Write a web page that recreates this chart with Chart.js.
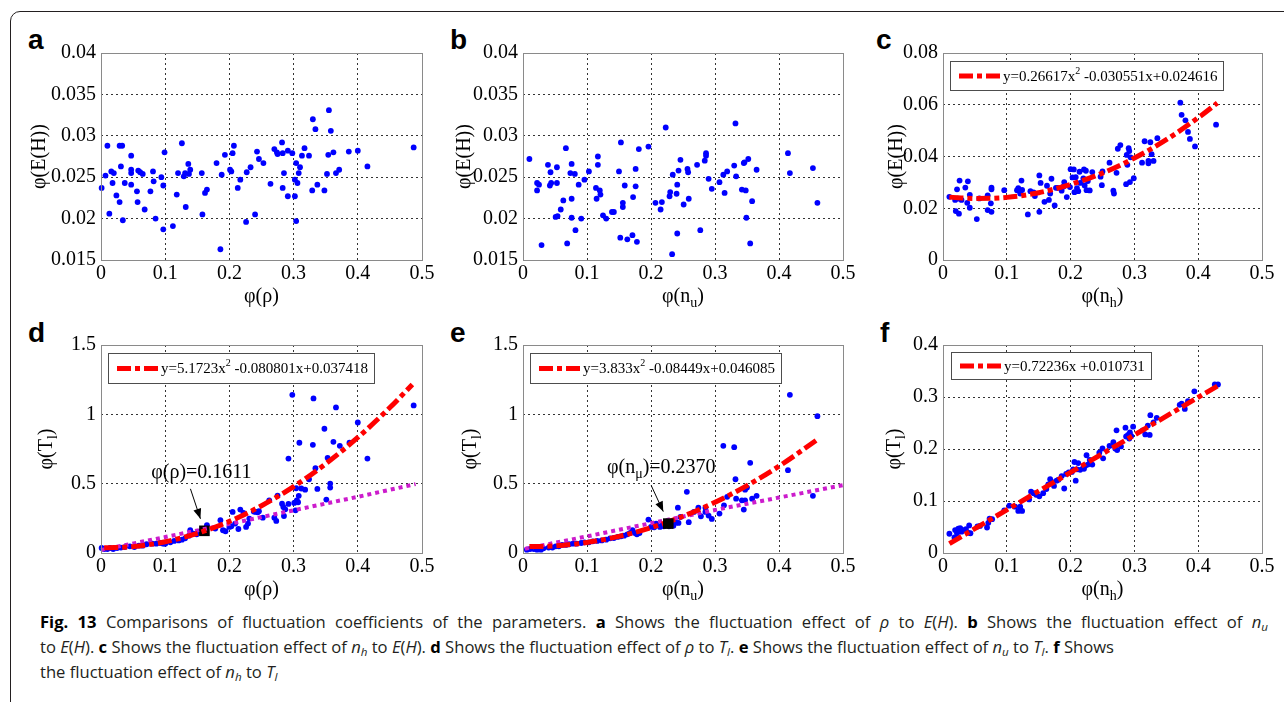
<!DOCTYPE html>
<html>
<head>
<meta charset="utf-8">
<script src="https://cdn.jsdelivr.net/npm/chart.js@4.4.1/dist/chart.umd.min.js"></script>
<style>
html,body{margin:0;padding:0;background:#fff;width:1284px;height:702px;overflow:hidden;position:relative;}
#frame{position:absolute;left:10px;top:11px;width:1320px;height:740px;border:1.5px solid #231f20;border-top-left-radius:10px;box-sizing:border-box;}
canvas{position:absolute;}
.lbl{position:absolute;font-family:"Liberation Sans",Arial,sans-serif;font-weight:bold;font-size:28px;line-height:28px;color:#000;}
.cap{position:absolute;left:40px;font-family:"Open Sans",sans-serif;font-size:16.6px;line-height:25px;color:#231f20;}
.cap b{color:#000;}
.cap sub{font-size:70%;vertical-align:-0.25em;line-height:0;}
</style>
</head>
<body>
<div id="frame"></div>
<div class="lbl" style="left:28px;top:26px">a</div>
<div class="lbl" style="left:450px;top:26px">b</div>
<div class="lbl" style="left:876px;top:26px">c</div>
<div class="lbl" style="left:28px;top:319px">d</div>
<div class="lbl" style="left:450px;top:319px">e</div>
<div class="lbl" style="left:880px;top:319px">f</div>
<div class="cap" style="top:609px;width:1228px;text-align:justify;text-align-last:justify;"><b>Fig. 13</b> Comparisons of fluctuation coefficients of the parameters. <b>a</b> Shows the fluctuation effect of <i>ρ</i> to <i>E</i>(<i>H</i>). <b>b</b> Shows the fluctuation effect of <i>n<sub>u</sub></i></div>
<div class="cap" style="top:634px;white-space:nowrap;">to <i>E</i>(<i>H</i>). <b>c</b> Shows the fluctuation effect of <i>n<sub>h</sub></i> to <i>E</i>(<i>H</i>). <b>d</b> Shows the fluctuation effect of <i>ρ</i> to <i>T<sub>l</sub></i>. <b>e</b> Shows the fluctuation effect of <i>n<sub>u</sub></i> to <i>T<sub>l</sub></i>. <b>f</b> Shows</div>
<div class="cap" style="top:659px;white-space:nowrap;">the fluctuation effect of <i>n<sub>h</sub></i> to <i>T<sub>l</sub></i></div>
<script>
// ---------------- data ----------------
const xTicks = [0, 0.1, 0.2, 0.3, 0.4, 0.5];
const xTickLabels = ['0', '0.1', '0.2', '0.3', '0.4', '0.5'];
const yTicksEH = [0.015, 0.02, 0.025, 0.03, 0.035, 0.04];
const yTickLabelsEH = ['0.015', '0.02', '0.025', '0.03', '0.035', '0.04'];
const yTicksC = [0, 0.02, 0.04, 0.06, 0.08];
const yTickLabelsC = ['0', '0.02', '0.04', '0.06', '0.08'];
const yTicksT = [0, 0.5, 1, 1.5];
const yTickLabelsT = ['0', '0.5', '1', '1.5'];
const yTicksF = [0, 0.1, 0.2, 0.3, 0.4];
const yTickLabelsF = ['0', '0.1', '0.2', '0.3', '0.4'];

// panel a : phi(rho) vs phi(E(H))
const aX = [0.001,0.007,0.010,0.013,0.016,0.018,0.020,0.024,0.029,0.029,0.033,0.031,0.034,0.037,0.047,0.047,0.047,0.047,0.056,0.057,0.058,0.061,0.065,0.068,0.077,0.081,0.082,0.085,0.094,0.097,0.097,0.099,0.112,0.118,0.120,0.126,0.129,0.131,0.132,0.136,0.137,0.139,0.157,0.158,0.162,0.165,0.180,0.186,0.188,0.193,0.201,0.203,0.205,0.207,0.213,0.217,0.226,0.227,0.233,0.240,0.243,0.246,0.253,0.264,0.270,0.274,0.275,0.282,0.283,0.283,0.285,0.291,0.291,0.298,0.302,0.302,0.304,0.304,0.306,0.308,0.310,0.313,0.317,0.324,0.329,0.330,0.334,0.337,0.348,0.352,0.354,0.355,0.358,0.362,0.366,0.371,0.386,0.400,0.415,0.487];
const aY = [0.0237,0.0252,0.0288,0.0206,0.0257,0.0243,0.0255,0.0228,0.0220,0.0288,0.0288,0.0263,0.0198,0.0243,0.0276,0.0259,0.0255,0.0241,0.0233,0.0220,0.0258,0.0256,0.0254,0.0211,0.0233,0.0257,0.0245,0.0200,0.0250,0.0240,0.0187,0.0280,0.0191,0.0229,0.0255,0.0291,0.0251,0.0255,0.0214,0.0266,0.0254,0.0259,0.0255,0.0205,0.0231,0.0235,0.0267,0.0163,0.0253,0.0277,0.0259,0.0257,0.0279,0.0288,0.0237,0.0247,0.0196,0.0256,0.0262,0.0205,0.0281,0.0272,0.0267,0.0242,0.0284,0.0280,0.0278,0.0292,0.0279,0.0237,0.0255,0.0282,0.0227,0.0279,0.0227,0.0247,0.0267,0.0197,0.0243,0.0255,0.0262,0.0276,0.0285,0.0276,0.0234,0.0320,0.0308,0.0241,0.0234,0.0254,0.0277,0.0331,0.0306,0.0280,0.0255,0.0259,0.0281,0.0282,0.0263,0.0286];

// panel b : phi(n_u) vs phi(E(H))
const bX = [0.010,0.022,0.022,0.025,0.029,0.039,0.042,0.043,0.044,0.051,0.053,0.053,0.054,0.059,0.063,0.067,0.069,0.074,0.076,0.076,0.076,0.081,0.082,0.087,0.091,0.096,0.103,0.114,0.115,0.117,0.117,0.120,0.121,0.125,0.130,0.139,0.142,0.150,0.152,0.153,0.156,0.156,0.159,0.163,0.171,0.172,0.176,0.176,0.178,0.181,0.196,0.207,0.215,0.217,0.223,0.229,0.230,0.233,0.234,0.240,0.241,0.241,0.243,0.246,0.251,0.257,0.258,0.259,0.272,0.277,0.284,0.286,0.286,0.290,0.295,0.307,0.313,0.315,0.319,0.330,0.332,0.333,0.342,0.345,0.346,0.348,0.349,0.352,0.355,0.358,0.365,0.414,0.417,0.453,0.460];
const bY = [0.0272,0.0243,0.0234,0.0241,0.0168,0.0265,0.0240,0.0256,0.0243,0.0202,0.0262,0.0243,0.0203,0.0211,0.0222,0.0285,0.0170,0.0255,0.0224,0.0201,0.0266,0.0254,0.0186,0.0241,0.0200,0.0247,0.0257,0.0237,0.0224,0.0275,0.0265,0.0234,0.0229,0.0204,0.0200,0.0208,0.0208,0.0257,0.0177,0.0292,0.0219,0.0214,0.0240,0.0175,0.0180,0.0226,0.0260,0.0239,0.0172,0.0284,0.0287,0.0219,0.0211,0.0220,0.0310,0.0227,0.0232,0.0157,0.0253,0.0230,0.0241,0.0182,0.0258,0.0271,0.0217,0.0260,0.0256,0.0224,0.0265,0.0186,0.0270,0.0279,0.0276,0.0248,0.0236,0.0244,0.0253,0.0231,0.0257,0.0264,0.0315,0.0251,0.0235,0.0267,0.0268,0.0234,0.0201,0.0272,0.0170,0.0221,0.0259,0.0279,0.0255,0.0261,0.0219];

// panel c : phi(n_h) vs phi(E(H))
const cX = [0.010,0.019,0.020,0.022,0.023,0.025,0.026,0.029,0.035,0.038,0.039,0.042,0.042,0.053,0.057,0.070,0.070,0.075,0.076,0.076,0.076,0.096,0.116,0.118,0.121,0.123,0.124,0.133,0.137,0.142,0.144,0.151,0.151,0.153,0.159,0.163,0.166,0.168,0.170,0.175,0.177,0.180,0.186,0.189,0.190,0.194,0.199,0.200,0.203,0.205,0.206,0.208,0.210,0.212,0.214,0.215,0.220,0.221,0.222,0.224,0.225,0.227,0.230,0.234,0.247,0.249,0.250,0.261,0.267,0.268,0.272,0.274,0.278,0.287,0.288,0.289,0.291,0.292,0.293,0.294,0.299,0.312,0.316,0.322,0.322,0.325,0.327,0.330,0.336,0.372,0.374,0.380,0.384,0.387,0.395,0.428];
const cY = [0.0244,0.0232,0.0189,0.0273,0.0237,0.0179,0.0307,0.0232,0.0280,0.0221,0.0304,0.0252,0.0202,0.0158,0.0238,0.0250,0.0193,0.0219,0.0280,0.0273,0.0186,0.0270,0.0270,0.0278,0.0257,0.0307,0.0271,0.0176,0.0266,0.0261,0.0247,0.0327,0.0186,0.0298,0.0225,0.0287,0.0232,0.0257,0.0314,0.0211,0.0279,0.0279,0.0268,0.0284,0.0301,0.0243,0.0282,0.0351,0.0319,0.0350,0.0262,0.0320,0.0278,0.0266,0.0341,0.0298,0.0315,0.0350,0.0288,0.0345,0.0270,0.0305,0.0269,0.0340,0.0322,0.0289,0.0342,0.0376,0.0268,0.0257,0.0337,0.0430,0.0444,0.0293,0.0406,0.0368,0.0432,0.0421,0.0301,0.0397,0.0316,0.0376,0.0459,0.0374,0.0383,0.0455,0.0409,0.0383,0.0471,0.0608,0.0561,0.0540,0.0495,0.0468,0.0439,0.0523];
const cFitX = [0.01, 0.05, 0.10, 0.15, 0.20, 0.25, 0.30, 0.35, 0.40, 0.43];
const cFitY = [0.0243, 0.0238, 0.0242, 0.0260, 0.0292, 0.0336, 0.0394, 0.0465, 0.0550, 0.0607];

// panel d : phi(rho) vs phi(T_l)
const dX = [0.001,0.005,0.010,0.014,0.019,0.025,0.031,0.037,0.045,0.052,0.059,0.065,0.071,0.080,0.086,0.092,0.097,0.100,0.108,0.114,0.121,0.126,0.131,0.137,0.139,0.144,0.149,0.154,0.159,0.162,0.165,0.178,0.186,0.190,0.194,0.200,0.203,0.205,0.209,0.214,0.217,0.222,0.226,0.229,0.231,0.238,0.241,0.244,0.246,0.252,0.262,0.270,0.273,0.275,0.282,0.284,0.285,0.287,0.292,0.292,0.298,0.301,0.303,0.304,0.305,0.307,0.308,0.309,0.312,0.318,0.324,0.330,0.331,0.334,0.337,0.348,0.351,0.353,0.357,0.357,0.362,0.366,0.372,0.387,0.400,0.415,0.487];
const dY = [0.036,0.029,0.029,0.036,0.029,0.036,0.039,0.043,0.048,0.043,0.053,0.053,0.063,0.067,0.067,0.072,0.067,0.067,0.077,0.087,0.091,0.096,0.106,0.125,0.164,0.140,0.135,0.154,0.149,0.144,0.200,0.176,0.236,0.164,0.157,0.188,0.193,0.296,0.212,0.173,0.313,0.289,0.188,0.212,0.248,0.299,0.296,0.294,0.301,0.255,0.380,0.255,0.231,0.414,0.356,0.332,0.267,0.315,0.681,0.354,1.141,0.361,0.308,0.467,0.380,0.366,0.412,0.795,0.465,0.457,0.532,0.780,1.115,0.612,0.462,0.896,0.385,0.686,0.501,0.472,0.802,1.050,0.773,0.795,0.941,0.681,1.064];
const dFitX = [0.005, 0.05, 0.10, 0.15, 0.20, 0.25, 0.30, 0.35, 0.40, 0.45, 0.485];
const dFitY = [0.037, 0.046, 0.081, 0.142, 0.228, 0.341, 0.479, 0.643, 0.833, 1.049, 1.215];
const dLinX = [0.0, 0.1, 0.2, 0.3, 0.4, 0.49];
const dLinY = [0.022, 0.115, 0.210, 0.308, 0.405, 0.497];
const dMark = [0.1611, 0.160];

// panel e : phi(n_u) vs phi(T_l)
const eX = [0.006,0.011,0.017,0.022,0.028,0.032,0.040,0.046,0.051,0.056,0.061,0.067,0.072,0.078,0.084,0.091,0.096,0.103,0.109,0.116,0.123,0.130,0.136,0.142,0.148,0.153,0.158,0.163,0.167,0.171,0.175,0.178,0.182,0.196,0.200,0.205,0.208,0.214,0.217,0.220,0.224,0.228,0.231,0.235,0.239,0.242,0.243,0.246,0.256,0.259,0.267,0.274,0.278,0.285,0.285,0.290,0.295,0.307,0.313,0.314,0.319,0.330,0.332,0.333,0.342,0.345,0.347,0.347,0.350,0.355,0.358,0.365,0.414,0.417,0.453,0.460];
const eY = [0.024,0.029,0.029,0.024,0.024,0.034,0.039,0.039,0.048,0.048,0.058,0.058,0.063,0.067,0.067,0.072,0.077,0.077,0.084,0.087,0.091,0.096,0.106,0.108,0.116,0.120,0.125,0.135,0.144,0.164,0.144,0.135,0.144,0.241,0.188,0.185,0.212,0.188,0.200,0.193,0.209,0.193,0.212,0.197,0.219,0.327,0.217,0.260,0.441,0.222,0.296,0.327,0.265,0.327,0.296,0.270,0.246,0.284,0.773,0.344,0.405,0.763,0.532,0.392,0.380,0.313,0.457,0.380,0.472,0.650,0.392,0.412,0.597,1.141,0.412,0.987];
const eFitX = [0.01, 0.05, 0.10, 0.15, 0.20, 0.25, 0.30, 0.35, 0.40, 0.46];
const eFitY = [0.046, 0.051, 0.076, 0.120, 0.183, 0.265, 0.366, 0.486, 0.626, 0.818];
const eLinX = [0.003, 0.1, 0.2, 0.3, 0.4, 0.5];
const eLinY = [0.030, 0.120, 0.215, 0.310, 0.400, 0.489];
const eMark = [0.227, 0.212];

// panel f : phi(n_h) vs phi(T_l)
const fX = [0.010,0.018,0.019,0.022,0.024,0.026,0.027,0.029,0.032,0.036,0.039,0.041,0.043,0.054,0.058,0.069,0.071,0.073,0.077,0.096,0.104,0.113,0.118,0.121,0.124,0.135,0.138,0.142,0.146,0.151,0.157,0.162,0.165,0.168,0.170,0.174,0.178,0.181,0.186,0.190,0.193,0.197,0.202,0.204,0.206,0.208,0.210,0.212,0.215,0.220,0.221,0.223,0.225,0.227,0.230,0.234,0.245,0.250,0.251,0.261,0.267,0.270,0.272,0.273,0.279,0.286,0.287,0.290,0.292,0.293,0.295,0.298,0.313,0.317,0.321,0.324,0.325,0.330,0.335,0.371,0.374,0.379,0.384,0.394,0.426,0.431];
const fY = [0.037,0.030,0.044,0.038,0.047,0.043,0.048,0.041,0.044,0.046,0.039,0.053,0.038,0.051,0.052,0.049,0.058,0.066,0.065,0.082,0.091,0.089,0.081,0.089,0.081,0.103,0.118,0.115,0.112,0.109,0.115,0.123,0.132,0.142,0.137,0.129,0.139,0.141,0.148,0.124,0.152,0.155,0.156,0.161,0.175,0.139,0.161,0.173,0.160,0.165,0.162,0.168,0.188,0.170,0.179,0.170,0.193,0.201,0.182,0.206,0.213,0.201,0.236,0.198,0.205,0.241,0.224,0.227,0.220,0.232,0.225,0.243,0.236,0.228,0.245,0.227,0.265,0.251,0.260,0.285,0.287,0.277,0.292,0.311,0.324,0.324];
const fFitX = [0.01, 0.10, 0.20, 0.30, 0.43];
const fFitY = [0.018, 0.083, 0.155, 0.227, 0.321];

// ---------------- drawing ----------------
const SERIF = '"Liberation Serif","Times New Roman",serif';
const RED_DASH = [14, 4, 5, 4];
const BLUE = '#0000ff', RED = '#ff0000', MAG = '#cc1ccc';

function pts(xs, ys) { const n = Math.min(xs.length, ys.length); const r = []; for (let i = 0; i < n; i++) r.push({x: xs[i], y: ys[i]}); return r; }

function fontFor(p, size) { const s = (p.sub || p.sup) ? Math.round(size * 0.68) : size; return s + 'px ' + SERIF; }
function richWidth(ctx, parts, size) { let w = 0; for (const p of parts) { ctx.font = fontFor(p, size); w += ctx.measureText(p.t).width; } return w; }
function drawRich(ctx, parts, x, y, align, size) {
  const w = richWidth(ctx, parts, size);
  let cx = align === 'center' ? x - w / 2 : x;
  ctx.textBaseline = 'middle'; ctx.textAlign = 'left'; ctx.fillStyle = '#000';
  for (const p of parts) {
    ctx.font = fontFor(p, size);
    const dy = p.sub ? size * 0.32 : (p.sup ? -size * 0.38 : 0);
    ctx.fillText(p.t, cx, y + dy);
    cx += ctx.measureText(p.t).width;
  }
}

const decor = {
  id: 'decor',
  afterDatasetsDraw(chart, args, o) {
    const ctx = chart.ctx, a = chart.chartArea, xs = chart.scales.x, ys = chart.scales.y;
    ctx.save();
    ctx.setLineDash([]);
    // axes box
    ctx.strokeStyle = '#8a8a8a'; ctx.lineWidth = 1;
    ctx.strokeRect(Math.round(a.left) + 0.5, Math.round(a.top) + 0.5, Math.round(a.right) - Math.round(a.left), Math.round(a.bottom) - Math.round(a.top));
    // legend
    if (o.legend) {
      const L = o.legend, size = 15;
      const lx = Math.round(a.left + L.dx), ly = Math.round(a.top + L.dy);
      const tw = richWidth(ctx, L.parts, size);
      const bw = Math.round(9 + 41 + 3 + tw + 6), bh = L.h;
      ctx.fillStyle = '#fff'; ctx.fillRect(lx, ly, bw, bh);
      ctx.strokeStyle = '#4d4d4d'; ctx.lineWidth = 1; ctx.strokeRect(lx + 0.5, ly + 0.5, bw, bh);
      const cy = ly + bh / 2 + 0.5;
      ctx.strokeStyle = RED; ctx.lineWidth = 5; ctx.lineCap = 'butt'; ctx.setLineDash(RED_DASH);
      ctx.beginPath(); ctx.moveTo(lx + 9, cy); ctx.lineTo(lx + 50, cy); ctx.stroke();
      ctx.setLineDash([]);
      drawRich(ctx, L.parts, lx + 53, cy + 1, 'left', size);
    }
    // annotation with arrow
    if (o.annot) {
      const N = o.annot;
      const px = xs.getPixelForValue(N.at[0]), py = ys.getPixelForValue(N.at[1]);
      const tx = px + N.tail[0], ty = py + N.tail[1], hx = px + N.tip[0], hy = py + N.tip[1];
      ctx.strokeStyle = '#000'; ctx.fillStyle = '#000'; ctx.lineWidth = 1;
      ctx.beginPath(); ctx.moveTo(tx, ty); ctx.lineTo(hx, hy); ctx.stroke();
      const ang = Math.atan2(hy - ty, hx - tx), hl = 10, hw = 4;
      ctx.beginPath();
      ctx.moveTo(hx, hy);
      ctx.lineTo(hx - hl * Math.cos(ang) + hw * Math.sin(ang), hy - hl * Math.sin(ang) - hw * Math.cos(ang));
      ctx.lineTo(hx - hl * Math.cos(ang) - hw * Math.sin(ang), hy - hl * Math.sin(ang) + hw * Math.cos(ang));
      ctx.closePath(); ctx.fill();
      drawRich(ctx, N.parts, px + N.text[0], py + N.text[1], 'center', 20);
    }
    // axis titles
    drawRich(ctx, o.xTitle, (a.left + a.right) / 2, a.bottom + 37, 'center', 20);
    ctx.translate(a.left + o.yTitleDx, (a.top + a.bottom) / 2);
    ctx.rotate(-Math.PI / 2);
    drawRich(ctx, o.yTitle, 0, 0, 'center', 20);
    ctx.restore();
  }
};

function makeAxis(min, max, vals, labels, isX) {
  const PAD_B = 62, PAD_L = 100;
  return {
    type: 'linear', min: min, max: max,
    afterBuildTicks: s => { s.ticks = vals.map(v => ({value: v})); },
    afterFit: s => { if (isX) s.height = PAD_B; else s.width = PAD_L; },
    ticks: {
      autoSkip: false, maxRotation: 0, minRotation: 0,
      callback: (v, i) => labels[i],
      font: {family: SERIF, size: 20}, color: '#000',
      padding: isX ? 2 : 5
    },
    grid: {
      drawTicks: false, lineWidth: 1,
      color: c => (c.tick && (Math.abs(c.tick.value - min) < 1e-9 || Math.abs(c.tick.value - max) < 1e-9)) ? 'rgba(0,0,0,0)' : '#333333'
    },
    border: {display: false, dash: [2, 3]}
  };
}

function makePanel(p) {
  const PAD_L = 100, PAD_T = 40, PAD_R = 22, PAD_B = 62;
  const cv = document.createElement('canvas');
  const W = (p.R - p.L) + PAD_L + PAD_R, H = (p.B - p.T) + PAD_T + PAD_B;
  cv.width = W; cv.height = H;
  cv.style.width = W + 'px'; cv.style.height = H + 'px';
  cv.style.left = (p.L - PAD_L) + 'px'; cv.style.top = (p.T - PAD_T) + 'px';
  document.body.appendChild(cv);

  const datasets = [];
  if (p.mark) datasets.push({data: [{x: p.mark[0], y: p.mark[1]}], pointStyle: 'rect', pointRadius: 7.5, backgroundColor: '#000', borderColor: '#000', borderWidth: 0, order: p.markOrder, clip: false});
  if (p.fit) datasets.push({data: pts(p.fit[0], p.fit[1]), showLine: true, pointRadius: 0, borderColor: RED, borderWidth: 5, borderDash: RED_DASH, borderCapStyle: 'butt', cubicInterpolationMode: 'monotone', order: 1, clip: false});
  if (p.lin) datasets.push({data: pts(p.lin[0], p.lin[1]), showLine: true, pointRadius: 0, borderColor: MAG, borderWidth: 4, borderDash: [4, 4], borderCapStyle: 'butt', order: 2, clip: false});
  datasets.push({data: pts(p.xs, p.ys), pointRadius: 2.9, pointBackgroundColor: BLUE, pointBorderWidth: 0, showLine: false, order: 3, clip: false});

  new Chart(cv, {
    type: 'scatter',
    data: {datasets: datasets},
    options: {
      responsive: false, animation: false, devicePixelRatio: 1,
      layout: {padding: {left: 0, top: PAD_T, right: PAD_R, bottom: 0}},
      events: [],
      plugins: {legend: {display: false}, tooltip: {enabled: false}, decor: p.decor},
      scales: {
        x: makeAxis(0, 0.5, xTicks, xTickLabels, true),
        y: makeAxis(p.yMin, p.yMax, p.yTicks, p.yLabels, false)
      }
    },
    plugins: [decor]
  });
}

const tEH = [{t: 'φ(E(H))'}];
const tTl = [{t: 'φ(T'}, {t: 'l', sub: true}, {t: ')'}];

makePanel({L: 101, R: 422, T: 53, B: 260, xs: aX, ys: aY, yMin: 0.015, yMax: 0.04, yTicks: yTicksEH, yLabels: yTickLabelsEH,
  decor: {xTitle: [{t: 'φ(ρ)'}], yTitle: tEH, yTitleDx: -61}});
makePanel({L: 523, R: 843, T: 53, B: 260, xs: bX, ys: bY, yMin: 0.015, yMax: 0.04, yTicks: yTicksEH, yLabels: yTickLabelsEH,
  decor: {xTitle: [{t: 'φ(n'}, {t: 'u', sub: true}, {t: ')'}], yTitle: tEH, yTitleDx: -58}});
makePanel({L: 943, R: 1262, T: 53, B: 260, xs: cX, ys: cY, yMin: 0, yMax: 0.08, yTicks: yTicksC, yLabels: yTickLabelsC, fit: [cFitX, cFitY],
  decor: {xTitle: [{t: 'φ(n'}, {t: 'h', sub: true}, {t: ')'}], yTitle: tEH, yTitleDx: -46,
    legend: {dx: 7, dy: 8, h: 29, parts: [{t: 'y=0.26617x'}, {t: '2', sup: true}, {t: ' -0.030551x+0.024616'}]}}});
makePanel({L: 101, R: 422, T: 345, B: 553, xs: dX, ys: dY, yMin: 0, yMax: 1.5, yTicks: yTicksT, yLabels: yTickLabelsT,
  fit: [dFitX, dFitY], lin: [dLinX, dLinY], mark: dMark, markOrder: 2.5,
  decor: {xTitle: [{t: 'φ(ρ)'}], yTitle: tTl, yTitleDx: -54,
    legend: {dx: 7, dy: 8, h: 30, parts: [{t: 'y=5.1723x'}, {t: '2', sup: true}, {t: ' -0.080801x+0.037418'}]},
    annot: {at: dMark, parts: [{t: 'φ(ρ)=0.1611'}], text: [-3, -58], tail: [-14, -42], tip: [-4, -12]}}});
makePanel({L: 523, R: 843, T: 345, B: 553, xs: eX, ys: eY, yMin: 0, yMax: 1.5, yTicks: yTicksT, yLabels: yTickLabelsT,
  fit: [eFitX, eFitY], lin: [eLinX, eLinY], mark: eMark, markOrder: 0,
  decor: {xTitle: [{t: 'φ(n'}, {t: 'u', sub: true}, {t: ')'}], yTitle: tTl, yTitleDx: -52,
    legend: {dx: 7, dy: 8, h: 30, parts: [{t: 'y=3.833x'}, {t: '2', sup: true}, {t: ' -0.08449x+0.046085'}]},
    annot: {at: eMark, parts: [{t: 'φ(n'}, {t: 'μ', sub: true}, {t: ')=0.2370'}], text: [-7, -56], tail: [-17, -38], tip: [-5, -12]}}});
makePanel({L: 943, R: 1262, T: 345, B: 553, xs: fX, ys: fY, yMin: 0, yMax: 0.4, yTicks: yTicksF, yLabels: yTickLabelsF, fit: [fFitX, fFitY],
  decor: {xTitle: [{t: 'φ(n'}, {t: 'h', sub: true}, {t: ')'}], yTitle: tTl, yTitleDx: -48,
    legend: {dx: 8, dy: 7, h: 27, parts: [{t: 'y=0.72236x +0.010731'}]}}});
</script>
</body>
</html>
